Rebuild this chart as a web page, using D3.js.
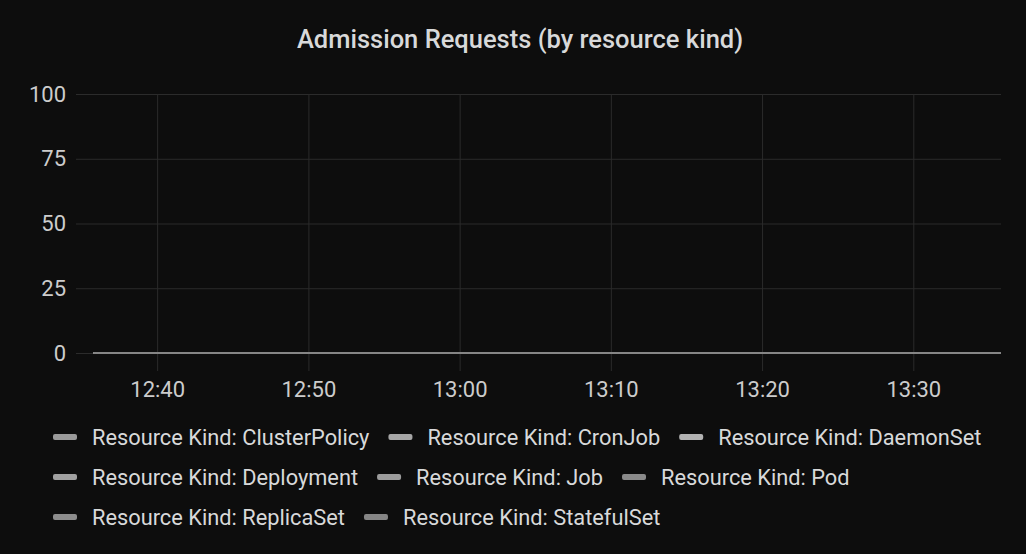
<!DOCTYPE html>
<html>
<head>
<meta charset="utf-8">
<script src="https://cdn.jsdelivr.net/npm/d3@7"></script>
<style>
  html, body { margin: 0; padding: 0; background: #0d0d0d; }
  svg { display: block; font-family: Roboto, "Noto Sans", sans-serif; }
</style>
</head>
<body>
<div id="chart"></div>
<script>
// series names, colours and values (all zero in the shown range)
var kinds = ["ClusterPolicy", "CronJob", "DaemonSet", "Deployment", "Job", "Pod", "ReplicaSet", "StatefulSet"];
var kindColors = ["#9a9a9a", "#a6a6a6", "#b2b2b2", "#a0a0a0", "#9c9c9c", "#8a8a8a", "#8c8c8c", "#858585"];
var times = ["12:35:48", "12:40:48", "12:45:48", "12:50:48", "12:55:48", "13:00:48", "13:05:48",
             "13:10:48", "13:15:48", "13:20:48", "13:25:48", "13:30:48", "13:35:48"];
var values = {
    "ClusterPolicy": [0, 0, 0, 0, 0, 0, 0, 0, 0, 0, 0, 0, 0],
    "CronJob":       [0, 0, 0, 0, 0, 0, 0, 0, 0, 0, 0, 0, 0],
    "DaemonSet":     [0, 0, 0, 0, 0, 0, 0, 0, 0, 0, 0, 0, 0],
    "Deployment":    [0, 0, 0, 0, 0, 0, 0, 0, 0, 0, 0, 0, 0],
    "Job":           [0, 0, 0, 0, 0, 0, 0, 0, 0, 0, 0, 0, 0],
    "Pod":           [0, 0, 0, 0, 0, 0, 0, 0, 0, 0, 0, 0, 0],
    "ReplicaSet":    [0, 0, 0, 0, 0, 0, 0, 0, 0, 0, 0, 0, 0],
    "StatefulSet":   [0, 0, 0, 0, 0, 0, 0, 0, 0, 0, 0, 0, 0]
};
var yTicks = [0, 25, 50, 75, 100];
var timeRange = ["12:34:38", "13:35:48"];

var width = 1026;
var height = 554;
var margins = { "left": 76, "right": 25, "top": 94, "bottom": 201 };

var parse = d3.timeParse("%H:%M:%S");

var svg = d3.select("#chart")
            .append("svg")
            .attr("width", width)
            .attr("height", height);

svg.append("rect")
    .attr("width", width)
    .attr("height", height)
    .attr("fill", "#0d0d0d");

var x = d3.scaleTime()
            .domain(timeRange.map(parse))
            .range([margins.left, width - margins.right]);

var y = d3.scaleLinear()
            .domain([0, 100])
            .range([height - margins.bottom, margins.top]);

// title
svg.append("text")
    .attr("x", 520)
    .attr("y", 48)
    .attr("text-anchor", "middle")
    .attr("fill", "#d8d9da")
    .style("font-size", "25.5px")
    .style("font-weight", 500)
    .text("Admission Requests (by resource kind)");

// horizontal grid + y labels
var yAxis = d3.axisLeft(y)
                .tickValues(yTicks)
                .tickSize(-(width - margins.left - margins.right))
                .tickPadding(10);

var gy = svg.append("g")
    .attr("class", "y axis")
    .attr("transform", "translate(" + margins.left + ",0)")
    .call(yAxis);
gy.select(".domain").remove();
gy.selectAll("line").attr("stroke", "#2b2b2b");
gy.selectAll("text")
    .attr("fill", "#cccccc")
    .style("font-size", "22px")
    .style("font-family", "Roboto, sans-serif");

// vertical grid + x labels (tick lines run past the bottom edge)
var xAxis = d3.axisBottom(x)
                .ticks(d3.timeMinute.every(10))
                .tickFormat(d3.timeFormat("%H:%M"))
                .tickSizeInner(18)
                .tickSizeOuter(0)
                .tickPadding(10);

var gx = svg.append("g")
    .attr("class", "x axis")
    .attr("transform", "translate(0," + y(0) + ")")
    .call(xAxis);
gx.select(".domain").remove();
gx.selectAll("line")
    .attr("stroke", "#2b2b2b")
    .attr("y1", y(100) - y(0));
gx.selectAll("text")
    .attr("fill", "#cccccc")
    .style("font-size", "22px")
    .style("font-family", "Roboto, sans-serif");

// series lines
var line = d3.line()
    .x(function (d) { return x(d.t); })
    .y(function (d) { return y(d.v); });

kinds.forEach(function (k, i) {
    var pts = times.map(function (t, j) {
        return { t: parse(t), v: values[k][j] };
    });
    svg.append("path")
        .datum(pts)
        .attr("fill", "none")
        .attr("stroke", kindColors[i])
        .attr("stroke-width", 2)
        .attr("d", line);
});

// legend, flowing left to right and wrapping
var legend = svg.append("g").attr("class", "legend");
var lx = 53, ly = 437, maxX = 1005;
kinds.forEach(function (k, i) {
    var item = legend.append("g");
    item.append("rect")
        .attr("x", 0)
        .attr("y", -3)
        .attr("width", 24)
        .attr("height", 6)
        .attr("rx", 2)
        .attr("fill", kindColors[i]);
    var txt = item.append("text")
        .attr("x", 39)
        .attr("y", 7.5)
        .attr("fill", "#d8d9da")
        .style("font-size", "21.8px")
        .text("Resource Kind: " + k);
    var w = 39 + txt.node().getComputedTextLength();
    if (lx + w > maxX) {
        lx = 53;
        ly += 40;
    }
    item.attr("transform", "translate(" + lx + "," + ly + ")");
    lx += w + 19;
});
</script>
</body>
</html>
